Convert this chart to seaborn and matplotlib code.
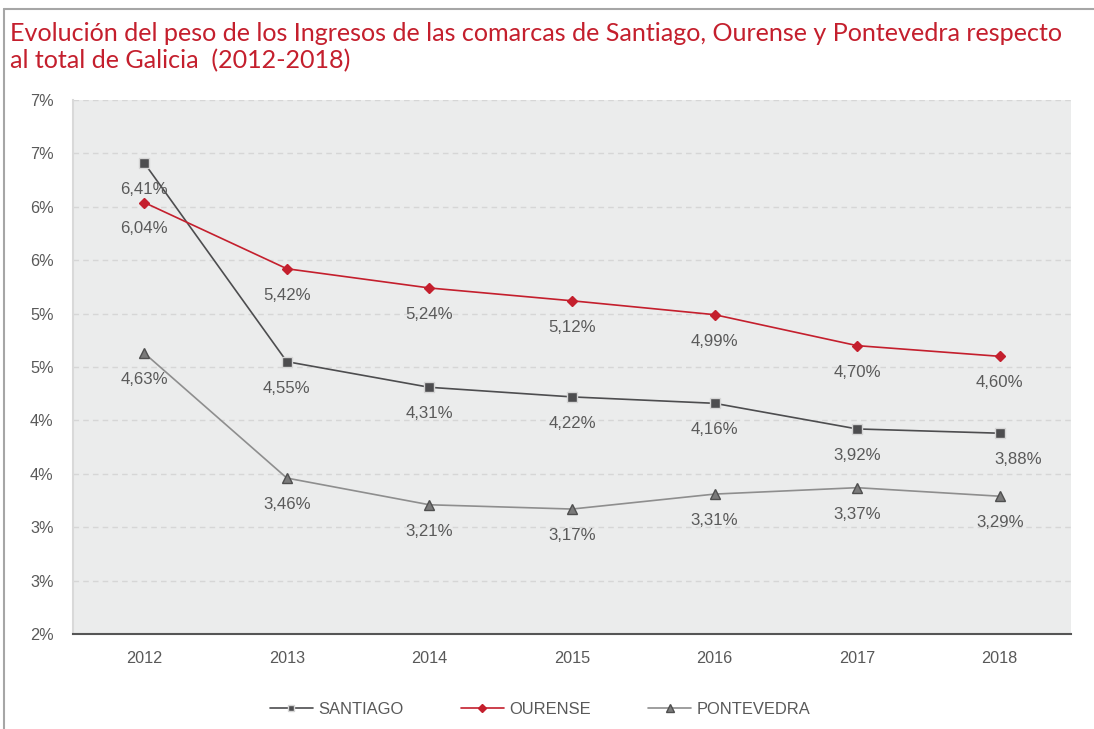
import matplotlib
matplotlib.use("Agg")
import matplotlib.pyplot as plt
import seaborn as sns
import pandas as pd
from matplotlib.lines import Line2D

years = ["2012", "2013", "2014", "2015", "2016", "2017", "2018"]
santiago = [6.41, 4.55, 4.31, 4.22, 4.16, 3.92, 3.88]
ourense = [6.04, 5.42, 5.24, 5.12, 4.99, 4.70, 4.60]
pontevedra = [4.63, 3.46, 3.21, 3.17, 3.31, 3.37, 3.29]
series_names = ["SANTIAGO", "OURENSE", "PONTEVEDRA"]
ytick_values = [2.0, 2.5, 3.0, 3.5, 4.0, 4.5, 5.0, 5.5, 6.0, 6.5, 7.0]
ytick_labels = ["2%", "3%", "3%", "4%", "4%", "5%", "5%", "6%", "6%", "7%", "7%"]
title = ("Evolución del peso de los Ingresos de las comarcas de Santiago, Ourense y Pontevedra respecto\n"
         "al total de Galicia  (2012-2018)")

sns.set_theme(style="white")
plt.rcParams["font.family"] = ["Liberation Sans", "DejaVu Sans"]

fig = plt.figure(figsize=(10.94, 7.29), dpi=100)
ax = fig.add_axes([73/1094, 1-634/729, (1071-73)/1094, (634-100)/729])
ax.set_facecolor("#EBECEC")

styles = {
    "SANTIAGO": dict(color="#4D4D4F", marker="s", mfc="#4D4D4F", mec="#D5D5D5", ms=6.5, mew=1.0, lw=1.2),
    "OURENSE": dict(color="#C41F2D", marker="D", mfc="#C41F2D", mec="#C41F2D", ms=5.5, mew=1.0, lw=1.2),
    "PONTEVEDRA": dict(color="#8E8E8E", marker="^", mfc="#7A7A7A", mec="#4F4F4F", ms=7.5, mew=1.0, lw=1.2),
}
data = {"SANTIAGO": santiago, "OURENSE": ourense, "PONTEVEDRA": pontevedra}

handles = []
for name in series_names:
    st = styles[name]
    df = pd.DataFrame({"year": years, "value": data[name]})
    sns.lineplot(data=df, x="year", y="value", ax=ax, color=st["color"], lw=st["lw"],
                 marker=st["marker"], markersize=st["ms"], markerfacecolor=st["mfc"],
                 markeredgecolor=st["mec"], markeredgewidth=st["mew"], zorder=3, label=name)
    handles.append(Line2D([], [], color=st["color"], lw=st["lw"], marker=st["marker"],
                          markersize=st["ms"]*0.75, markerfacecolor=st["mfc"],
                          markeredgecolor=st["mec"], markeredgewidth=st["mew"]))

ax.get_legend().remove()

# data labels
for name in series_names:
    for i, v in enumerate(data[name]):
        dx = 0
        if name == "SANTIAGO" and i == 6:
            dx = 13
        ax.annotate(f"{v:.2f}%".replace(".", ","), xy=(i, v), xytext=(dx, -19),
                    textcoords="offset points", ha="center", va="center",
                    fontsize=12.1, color="#5A5A5A", zorder=4)

ax.set_xlim(-0.5, 6.5)
ax.set_ylim(2.0, 7.0)
ax.set_yticks(ytick_values)
ax.set_yticklabels(ytick_labels)
ax.set_xticks(range(len(years)))
ax.set_xticklabels(years)
ax.set_xticks([x - 0.5 for x in range(len(years) + 1)], minor=True)
ax.set_xlabel("")
ax.set_ylabel("")

ax.grid(axis="y", color="#D6D6D6", linestyle=(0, (4, 3)), lw=1.0)
ax.grid(axis="x", visible=False)
ax.set_axisbelow(True)

for s in ["top", "right"]:
    ax.spines[s].set_visible(False)
ax.spines["left"].set_color("#D9D9D9")
ax.spines["left"].set_linewidth(1.5)
ax.spines["bottom"].set_color("#555555")
ax.spines["bottom"].set_linewidth(1.5)

ax.tick_params(axis="y", which="major", length=6, width=1.0, color="#D6D6D6",
               labelsize=11.7, labelcolor="#595959", pad=8)
ax.tick_params(axis="x", which="major", length=0, labelsize=11.7, labelcolor="#595959", pad=12)
ax.tick_params(axis="x", which="minor", length=6, width=1.5, color="#555555", direction="out")
ax.tick_params(axis="x", which="major", bottom=True)

fig.text(10/1094, 1-22/729, title, ha="left", va="top", fontsize=18.1, color="#C41F2D",
         family=["Lato", "DejaVu Sans"], linespacing=1.22)

fig.legend(handles, series_names, loc="center", bbox_to_anchor=(540/1094, 1-709/729),
           ncol=3, frameon=False, fontsize=11.9, labelcolor="#595959",
           handlelength=2.6, handletextpad=0.3, columnspacing=3.5)

# figure border (top and left)
fig.add_artist(Line2D([4/1094, 4/1094], [0, 1-9/729], transform=fig.transFigure,
                      color="#A6A6A6", lw=1.5))
fig.add_artist(Line2D([4/1094, 1], [1-9/729, 1-9/729], transform=fig.transFigure,
                      color="#A6A6A6", lw=1.5))

fig.savefig("out.png", dpi=100)
